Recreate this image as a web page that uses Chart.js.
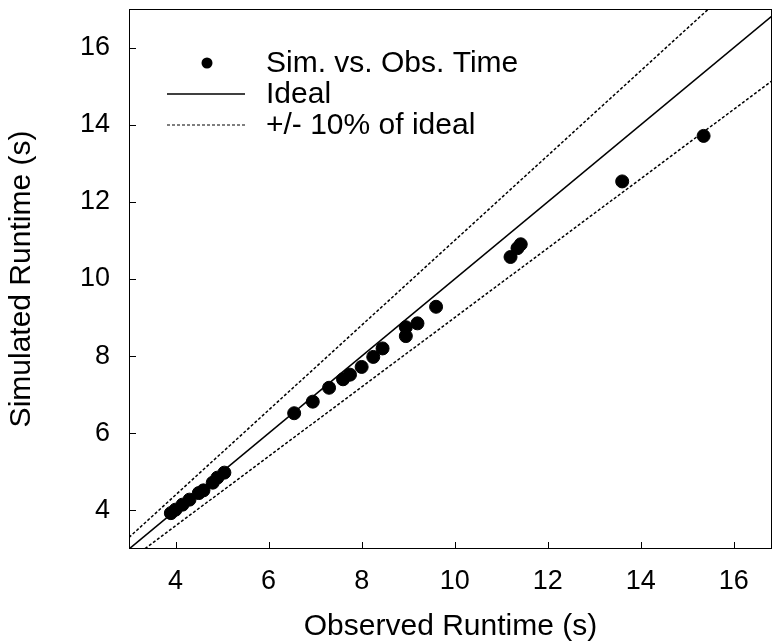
<!DOCTYPE html>
<html>
<head>
<meta charset="utf-8">
<script src="https://cdn.jsdelivr.net/npm/chart.js@4.4.0/dist/chart.umd.min.js"></script>
<style>
html, body { margin: 0; padding: 0; background: #fff; }
</style>
</head>
<body>
<canvas id="plot" width="773" height="642"></canvas>
<script>
// observed vs simulated runtimes (s)
var obsTime = [3.9, 4.0, 4.15, 4.3, 4.5, 4.6, 4.8, 4.9, 5.05, 6.55, 6.95, 7.3, 7.6, 7.75, 8.0, 8.25, 8.45, 8.95, 8.95, 9.2, 9.6, 11.2, 11.35, 11.42, 13.6, 15.35];
var simTime = [3.93, 4.02, 4.15, 4.28, 4.45, 4.52, 4.72, 4.85, 4.98, 6.52, 6.82, 7.18, 7.4, 7.52, 7.72, 7.98, 8.2, 8.52, 8.75, 8.85, 9.28, 10.57, 10.8, 10.9, 12.53, 13.71];

// reference lines (ideal and +/- 10%)
var refX = [3, 17];
var idealY = [3, 17];
var plusTenY = [3.3, 18.7];
var minusTenY = [2.7, 15.3];

var xTicks = [4, 6, 8, 10, 12, 14, 16];
var yTicks = [4, 6, 8, 10, 12, 14, 16];
var legendLabels = ['Sim. vs. Obs. Time', 'Ideal', '+/- 10% of ideal'];

var fontFam = '"Liberation Sans", Arial, Helvetica, sans-serif';

function toPoints(xs, ys) {
    var pts = [];
    for (var i = 0; i < xs.length; i++) pts.push({x: xs[i], y: ys[i]});
    return pts;
}

// frame, inward tick marks and the legend box
var frameAndLegend = {
    id: 'frameAndLegend',
    afterDatasetsDraw: function(chart) {
        var ctx = chart.ctx;
        var a = chart.chartArea;
        var sx = chart.scales.x, sy = chart.scales.y;
        ctx.save();
        ctx.strokeStyle = '#000';
        ctx.lineWidth = 1;
        ctx.strokeRect(a.left + 0.5, a.top + 0.5, a.right - a.left - 1, a.bottom - a.top - 1);
        ctx.beginPath();
        xTicks.forEach(function(v) {
            var px = Math.round(sx.getPixelForValue(v)) + 0.5;
            ctx.moveTo(px, a.bottom);
            ctx.lineTo(px, a.bottom - 7);
        });
        yTicks.forEach(function(v) {
            var py = Math.round(sy.getPixelForValue(v)) + 0.5;
            ctx.moveTo(a.left, py);
            ctx.lineTo(a.left + 7, py);
        });
        ctx.stroke();

        // legend
        var rows = [63, 94, 125];
        ctx.fillStyle = '#000';
        ctx.beginPath();
        ctx.arc(207, rows[0], 5.5, 0, Math.PI * 2);
        ctx.fill();
        ctx.lineWidth = 1.5;
        ctx.beginPath();
        ctx.moveTo(167, rows[1]);
        ctx.lineTo(245, rows[1]);
        ctx.stroke();
        ctx.lineWidth = 1.2;
        ctx.setLineDash([3, 2]);
        ctx.beginPath();
        ctx.moveTo(167, rows[2]);
        ctx.lineTo(245, rows[2]);
        ctx.stroke();
        ctx.setLineDash([]);
        ctx.font = '30px ' + fontFam;
        ctx.textBaseline = 'middle';
        ctx.textAlign = 'left';
        for (var i = 0; i < legendLabels.length; i++) {
            ctx.fillText(legendLabels[i], 266, rows[i] + 1);
        }
        ctx.restore();
    }
};

var plot = document.getElementById('plot').getContext('2d');
var ch = new Chart(plot, {
    type: 'scatter',
    data: {
        datasets: [
            {
                label: legendLabels[0],
                data: toPoints(obsTime, simTime),
                backgroundColor: '#000',
                borderColor: '#000',
                pointRadius: 6.5,
                pointHoverRadius: 6.5
            },
            {
                label: legendLabels[1],
                data: toPoints(refX, idealY),
                showLine: true,
                pointRadius: 0,
                borderColor: '#000',
                borderWidth: 1.6,
                clip: 0
            },
            {
                label: legendLabels[2],
                data: toPoints(refX, plusTenY),
                showLine: true,
                pointRadius: 0,
                borderColor: '#000',
                borderWidth: 1.5,
                borderDash: [3, 2],
                clip: 0
            },
            {
                label: legendLabels[2],
                data: toPoints(refX, minusTenY),
                showLine: true,
                pointRadius: 0,
                borderColor: '#000',
                borderWidth: 1.5,
                borderDash: [3, 2],
                clip: 0
            }
        ]
    },
    options: {
        responsive: false,
        animation: false,
        layout: { autoPadding: false, padding: { top: 9, right: 1, left: 0, bottom: 0 } },
        plugins: {
            legend: { display: false },
            tooltip: { enabled: false }
        },
        scales: {
            x: {
                type: 'linear',
                min: 3,
                max: 16.82,
                afterBuildTicks: function(s) { s.ticks = xTicks.map(function(v) { return {value: v}; }); },
                afterFit: function(s) {
                    s.height = 93;
                    s.paddingLeft = 0;
                    s.paddingRight = 0;
                },
                grid: { display: false, drawTicks: false },
                border: { display: false },
                ticks: { color: '#000', padding: 16, maxRotation: 0, font: { family: fontFam, size: 27 } },
                title: {
                    display: true,
                    text: 'Observed Runtime (s)',
                    color: '#000',
                    font: { family: fontFam, size: 30, lineHeight: 1 },
                    padding: { top: 0, bottom: 0 }
                }
            },
            y: {
                type: 'linear',
                min: 3,
                max: 17,
                afterBuildTicks: function(s) { s.ticks = yTicks.map(function(v) { return {value: v}; }); },
                afterFit: function(s) {
                    s.width = 129;
                    s.paddingTop = 0;
                    s.paddingBottom = 0;
                },
                grid: { display: false, drawTicks: false },
                border: { display: false },
                ticks: { color: '#000', padding: 19, font: { family: fontFam, size: 27 } },
                title: {
                    display: true,
                    text: 'Simulated Runtime (s)',
                    color: '#000',
                    font: { family: fontFam, size: 30, lineHeight: 1 },
                    padding: { top: 7, bottom: 0 }
                }
            }
        }
    },
    plugins: [frameAndLegend]
});
</script>
</body>
</html>
